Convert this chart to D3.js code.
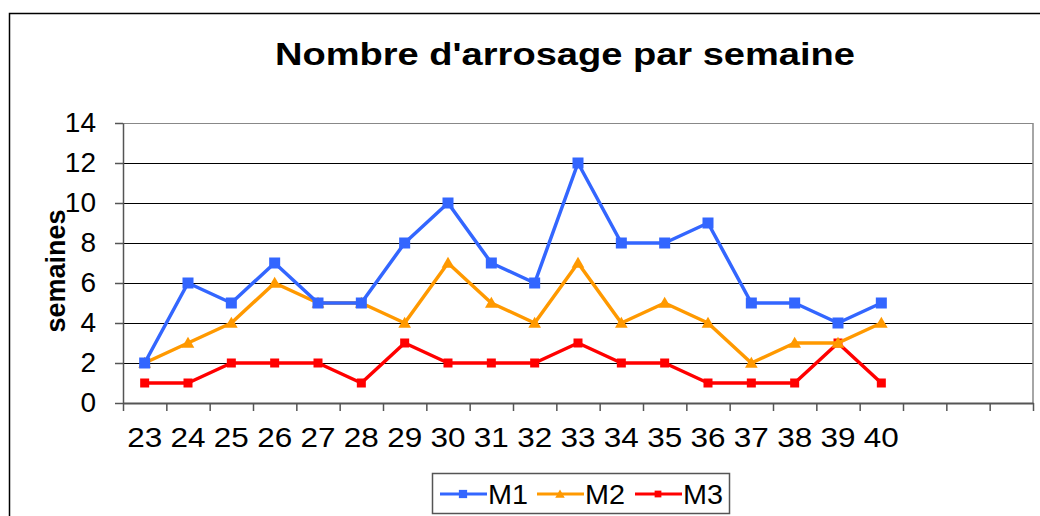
<!DOCTYPE html>
<html>
<head>
<meta charset="utf-8">
<script src="https://cdn.jsdelivr.net/npm/d3@7"></script>
<style>
  html, body { margin: 0; padding: 0; background: #fff; }
  svg.vis { display: block; width: 1040px; height: 516px; font-family: Arial, "Liberation Sans", sans-serif; }
</style>
</head>
<body>
<svg class="vis" width="1040" height="516"></svg>
<script>
// semaines 23..40, the axis has 3 more empty slots
const weeks = ['23','24','25','26','27','28','29','30','31','32','33','34','35','36','37','38','39','40'];
const slots = 21;

const m1 = [2, 6, 5, 7, 5, 5, 8, 10, 7, 6, 12, 8, 8, 9, 5, 5, 4, 5];
const m2 = [2, 3, 4, 6, 5, 5, 4, 7, 5, 4, 7, 4, 5, 4, 2, 3, 3, 4];
const m3 = [1, 1, 2, 2, 2, 1, 3, 2, 2, 2, 3, 2, 2, 1, 1, 1, 3, 1];

const yTicks = [0, 2, 4, 6, 8, 10, 12, 14];

const seriesNames = ['M1', 'M2', 'M3'];
const seriesColors = ['#3366ff', '#ff9900', '#ff0000'];
const seriesMarks = ['square', 'triangle', 'smallsquare'];

const v = {

    elems : {
        svg : 'svg.vis'
    },

    sizings : {
        left : 123,
        right : 1033,
        top : 123,
        bottom : 403
    },

    scales : {
        x : null,
        y : null,
        make : () => {
            const s = v.sizings;
            v.scales.x = d3.scaleLinear().domain([0, slots]).range([s.left, s.right]);
            v.scales.y = d3.scaleLinear().domain([0, 14]).range([s.bottom, s.top]);
        }
    },

    frame : {

        render : (svg) => {

            // cadre du graphique
            svg.append('rect')
              .attr('x', 9.5).attr('y', 13.5)
              .attr('width', 1100).attr('height', 600)
              .attr('fill', 'none')
              .attr('stroke', '#000')
              .attr('stroke-width', 1.5);

            svg.append('text')
              .attr('x', 565).attr('y', 65)
              .attr('text-anchor', 'middle')
              .attr('font-size', 31)
              .attr('font-weight', 'bold')
              .attr('textLength', 580)
              .attr('lengthAdjust', 'spacingAndGlyphs')
              .text("Nombre d'arrosage par semaine");

            svg.append('text')
              .attr('transform', 'translate(65,271) rotate(-90)')
              .attr('text-anchor', 'middle')
              .attr('font-size', 27)
              .attr('font-weight', 'bold')
              .text('semaines');

        }

    },

    axes : {

        render : (svg) => {

            const s = v.sizings;
            const x = v.scales.x;
            const y = v.scales.y;

            // grille
            svg.append('g')
              .attr('transform', `translate(${s.left},0)`)
              .call(d3.axisLeft(y).tickValues(yTicks).tickSize(-(s.right - s.left)).tickFormat(''))
              .call(g => g.select('.domain').remove())
              .call(g => g.selectAll('line')
                  .attr('stroke', d => d === 14 || d === 0 ? '#888' : '#000')
                  .attr('stroke-width', 1.2));

            svg.append('line')
              .attr('x1', s.right).attr('x2', s.right)
              .attr('y1', s.top).attr('y2', s.bottom)
              .attr('stroke', '#888').attr('stroke-width', 1.5);

            // axe y
            svg.append('g')
              .attr('transform', `translate(${s.left},0)`)
              .call(d3.axisLeft(y).tickValues(yTicks).tickSize(8).tickSizeOuter(0).tickPadding(19))
              .call(g => g.select('.domain').attr('stroke', '#555').attr('stroke-width', 1.5))
              .call(g => g.selectAll('line').attr('stroke', '#555').attr('stroke-width', 1.5))
              .call(g => g.selectAll('text')
                  .attr('font-size', 28)
                  .attr('font-family', 'Arial, "Liberation Sans", sans-serif')
                  .attr('fill', '#000'));

            // axe x
            svg.append('g')
              .attr('transform', `translate(0,${s.bottom})`)
              .call(d3.axisBottom(x).tickValues(d3.range(slots + 1)).tickSize(8).tickSizeOuter(0).tickFormat(''))
              .call(g => g.select('.domain').attr('stroke', '#555').attr('stroke-width', 2))
              .call(g => g.selectAll('line').attr('stroke', '#555').attr('stroke-width', 1.5));

            svg.append('g')
              .selectAll('text')
              .data(weeks)
              .join('text')
              .attr('x', (d, i) => x(i + 0.5))
              .attr('y', 447)
              .attr('text-anchor', 'middle')
              .attr('font-size', 28)
              .attr('textLength', 35)
              .attr('lengthAdjust', 'spacingAndGlyphs')
              .text(d => d);

        }

    },

    marker : (g, kind, color, cx, cy, scale = 1) => {

        if (kind === 'triangle') {
            g.append('path')
              .attr('d', d3.symbol(d3.symbolTriangle, 70 * scale * scale)())
              .attr('transform', `translate(${cx},${cy + 1})`)
              .attr('fill', color);
        } else {
            const r = (kind === 'square' ? 5.5 : 4.5) * scale;
            g.append('rect')
              .attr('x', cx - r).attr('y', cy - r)
              .attr('width', 2 * r).attr('height', 2 * r)
              .attr('fill', color);
        }

    },

    lines : {

        render : (svg) => {

            const x = v.scales.x;
            const y = v.scales.y;
            const all = [m1, m2, m3];

            const line = d3.line()
              .x((d, i) => x(i + 0.5))
              .y(d => y(d));

            // M3 d'abord, M1 au dessus
            [2, 1, 0].forEach(k => {

                const g = svg.append('g').classed('serie', true);

                g.append('path')
                  .datum(all[k])
                  .attr('d', line)
                  .attr('fill', 'none')
                  .attr('stroke', seriesColors[k])
                  .attr('stroke-width', 3.5)
                  .attr('stroke-linejoin', 'round');

                all[k].forEach((d, i) => v.marker(g, seriesMarks[k], seriesColors[k], x(i + 0.5), y(d)));

            });

        }

    },

    legend : {

        render : (svg) => {

            const g = svg.append('g');

            g.append('rect')
              .attr('x', 432.5).attr('y', 473.5)
              .attr('width', 297).attr('height', 40)
              .attr('fill', '#fff')
              .attr('stroke', '#555')
              .attr('stroke-width', 1.5);

            const xs = [440, 537, 635];

            seriesNames.forEach((name, k) => {

                g.append('line')
                  .attr('x1', xs[k]).attr('x2', xs[k] + 47)
                  .attr('y1', 494).attr('y2', 494)
                  .attr('stroke', seriesColors[k])
                  .attr('stroke-width', 3);

                v.marker(g, seriesMarks[k], seriesColors[k], xs[k] + 23, 494, 0.75);

                g.append('text')
                  .attr('x', xs[k] + 48)
                  .attr('y', 504)
                  .attr('font-size', 27)
                  .attr('textLength', 40)
                  .attr('lengthAdjust', 'spacingAndGlyphs')
                  .text(name);

            });

        }

    },

    ctrl : {

        init : () => {

            const svg = d3.select(v.elems.svg);

            v.scales.make();
            v.frame.render(svg);
            v.axes.render(svg);
            v.lines.render(svg);
            v.legend.render(svg);

        }

    }

}

v.ctrl.init();
</script>
</body>
</html>
